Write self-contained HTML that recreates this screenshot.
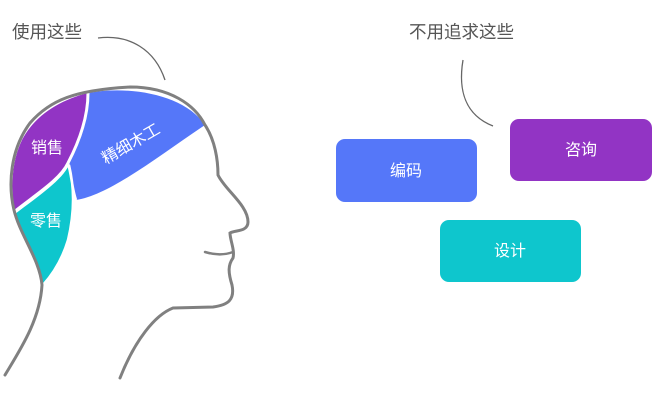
<!DOCTYPE html>
<html><head><meta charset="utf-8"><style>
html,body{margin:0;padding:0;background:#fff;}
body{width:653px;height:406px;overflow:hidden;font-family:"Liberation Sans","Noto Sans CJK SC",sans-serif;}
</style></head><body>
<svg width="653" height="406" viewBox="0 0 653 406" xmlns="http://www.w3.org/2000/svg" style="font-family:'Liberation Sans','Noto Sans CJK SC',sans-serif">
<path d="M88,93 C130,85 185,95 205,125 C160,155 110,195 76,200 C72,185 70,175 68,163 C80,140 88,115 88,93Z" fill="#5577f9"/>
<path d="M88,93 C60,100 35,115 22,140 C10,165 12,190 14,212 C35,195 60,180 68,163 C80,140 88,115 88,93Z" fill="#9234c4"/>
<path d="M15,214 C40,195 62,180 69,165 C75,190 74,215 68,240 C62,260 52,275 43,285 C38,260 20,235 15,214Z" fill="#0ec6cd"/>
<path d="M88,93 C88,115 80,140 68,163 C60,180 35,195 14,212" fill="none" stroke="#fff" stroke-width="3"/>
<path d="M68,163 C72,178 72,188 76,200 M69,165 C75,190 74,215 68,240 C62,260 52,275 43,285" fill="none" stroke="#fff" stroke-width="2.5"/>
<path d="M5,375 C20,350 40,320 42,285 C40,260 20,235 14,210 C8,185 10,150 30,123 C50,100 75,90 130,87 C170,87 195,105 205,125 C215,140 218,160 218,175 C225,190 248,205 248,222 C248,232 235,230 230,233 C230,240 235,250 233,258 C228,265 228,272 232,285 C235,300 228,305 213,307 L173,308 C155,315 135,340 120,378" fill="none" stroke="#808080" stroke-width="3" stroke-linecap="round"/>
<path d="M205,252 C215,255 225,255 233,252" fill="none" stroke="#808080" stroke-width="2.5" stroke-linecap="round"/>
<text x="47" y="153" fill="#fff" font-size="16" text-anchor="middle">销售</text>
<text x="46" y="226" fill="#fff" font-size="16" text-anchor="middle">零售</text>
<text x="131" y="149" fill="#fff" font-size="16" text-anchor="middle" transform="rotate(-30 131 144)">精细木工</text>
<text x="12" y="38" fill="#555" font-size="17.5">使用这些</text>
<text x="409" y="38" fill="#555" font-size="17.5">不用追求这些</text>
<path d="M98,38 C130,34 155,50 165,80" fill="none" stroke="#666" stroke-width="1.3"/>
<path d="M463,60 C458,90 465,115 493,126" fill="none" stroke="#666" stroke-width="1.3"/>
<rect x="336" y="139" width="141" height="63" rx="9" fill="#5577f9"/>
<rect x="510" y="119" width="142" height="62" rx="9" fill="#9234c4"/>
<rect x="440" y="220" width="141" height="62" rx="9" fill="#0ec6cd"/>
<text x="406" y="176" fill="#fff" font-size="16" text-anchor="middle">编码</text>
<text x="581" y="155" fill="#fff" font-size="16" text-anchor="middle">咨询</text>
<text x="510" y="256" fill="#fff" font-size="16" text-anchor="middle">设计</text>
</svg>
</body></html>
